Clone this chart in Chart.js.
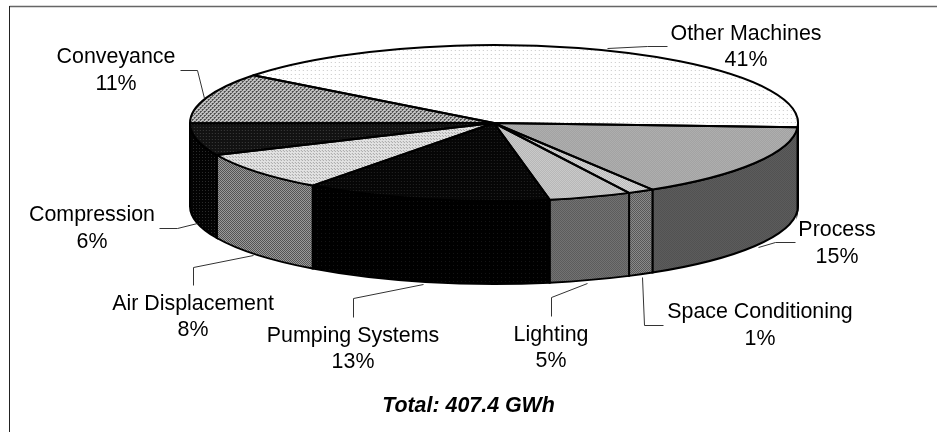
<!DOCTYPE html>
<html>
<head>
<meta charset="utf-8">
<title>Total: 407.4 GWh</title>
<script src="https://cdn.jsdelivr.net/npm/chart.js@4/dist/chart.umd.js"></script>
<style>
  html, body { margin: 0; padding: 0; background: #fff; }
  canvas { display: block; }
</style>
</head>
<body>
<canvas id="chartPie" width="937" height="432"></canvas>
<script>
// ── DATA ─────────────────────────────────────────────────────────
const categories = ["Other Machines", "Process", "Space Conditioning", "Lighting",
                    "Pumping Systems", "Air Displacement", "Compression", "Conveyance"];
const shares     = [40.4, 15.4, 1.4, 4.4, 13.1, 8.1, 6.7, 10.5];   // slice sizes as drawn
const pctLabels  = ["41%", "15%", "1%", "5%", "13%", "8%", "6%", "11%"];
const totalLabel = "Total: 407.4 GWh";

// ── LAYOUT (not data) ────────────────────────────────────────────
const FONT = "'Liberation Sans', Arial, sans-serif";
const pie  = { cx: 494, cy: 123, rx: 304, ry: 78, depth: 83, rotation: 307.7 };

// label centre x, first baseline, second baseline
const labelPos = [
  [746, 40, 66], [837, 236, 263], [760, 318, 345], [551, 341, 367],
  [353, 342, 368], [193, 310, 336], [92, 221, 248], [116, 63, 90],
];
const leaders = [
  [[667, 46], [647, 46], [607, 48]],
  [[795, 242], [775, 242], [758, 247]],
  [[663, 325], [644, 325], [642, 277]],
  [[551, 316], [551, 297], [587, 283]],
  [[353, 317], [353, 298], [423, 284]],
  [[193, 285], [193, 267], [253, 255]],
  [[159, 228], [177, 228], [197, 223]],
  [[180, 70], [197, 70], [204, 98]],
];

// ── PATTERNS ─────────────────────────────────────────────────────
function makePattern(size, bg, fg, cells) {
  const c = document.createElement("canvas");
  c.width = c.height = size;
  const g = c.getContext("2d");
  g.fillStyle = bg;
  g.fillRect(0, 0, size, size);
  g.fillStyle = fg;
  cells.forEach(p => g.fillRect(p[0], p[1], 1, 1));
  return g.createPattern(c, "repeat");
}

const checker = [[0, 0], [1, 1]];
const stagger = [[0, 0], [1, 0], [2, 2], [3, 2], [0, 1], [2, 3]];

const topFills = [
  makePattern(4, "#ffffff", "#c8c8c8", [[1, 1]]),
  makePattern(2, "#b2b2b2", "#a0a0a0", checker),
  makePattern(2, "#dcdcdc", "#b4b4b4", checker),
  makePattern(2, "#cecece", "#b4b4b4", checker),
  makePattern(3, "#060606", "#242424", [[1, 1]]),
  makePattern(3, "#e2e2e2", "#a4a4a4", [[0, 0], [1, 1]]),
  makePattern(3, "#121212", "#3c3c3c", [[1, 1]]),
  makePattern(4, "#c4c4c4", "#4c4c4c", stagger),
];
const sideFills = [
  makePattern(2, "#000000", "#000000", []),
  makePattern(2, "#5c5c5c", "#525252", checker),
  makePattern(2, "#8a8a8a", "#585858", checker),
  makePattern(2, "#727272", "#5c5c5c", checker),
  makePattern(4, "#000000", "#141414", [[1, 1]]),
  makePattern(2, "#9a9a9a", "#545454", checker),
  makePattern(3, "#030303", "#2a2a2a", [[1, 1]]),
  makePattern(2, "#000000", "#000000", []),
];

// ── 3D PIE PLUGIN ────────────────────────────────────────────────
// Chart.js lays the slices out as a circle; this squashes them into the
// ellipse, adds the rim underneath, then the outlines, leaders and labels.
const tiltedPie = {
  id: "tiltedPie",
  beforeDraw(chart) {
    const ctx = chart.ctx;
    ctx.save();
    ctx.strokeStyle = "#666";
    ctx.lineWidth = 1.5;
    ctx.beginPath();
    ctx.moveTo(937, 6.5);
    ctx.lineTo(9.5, 6.5);
    ctx.stroke();
    ctx.strokeStyle = "#222";
    ctx.lineWidth = 1;
    ctx.beginPath();
    ctx.moveTo(9.5, 6);
    ctx.lineTo(9.5, 432);
    ctx.stroke();
    ctx.restore();
  },
  beforeDatasetsDraw(chart) {
    const ctx  = chart.ctx;
    const arcs = chart.getDatasetMeta(0).data;

    // rim: only the front half of the ellipse is visible
    ctx.save();
    ctx.strokeStyle = "#000";
    ctx.lineWidth = 2;
    arcs.forEach((arc, i) => {
      [0, -2 * Math.PI].forEach(shift => {
        const lo = Math.max(arc.startAngle + shift, 0);
        const hi = Math.min(arc.endAngle + shift, Math.PI);
        if (hi <= lo) return;
        ctx.beginPath();
        ctx.ellipse(pie.cx, pie.cy, pie.rx, pie.ry, 0, lo, hi);
        ctx.ellipse(pie.cx, pie.cy + pie.depth, pie.rx, pie.ry, 0, hi, lo, true);
        ctx.closePath();
        ctx.fillStyle = sideFills[i];
        ctx.fill();
        ctx.stroke();
      });
    });
    ctx.restore();

    const a  = arcs[0];
    const sx = pie.rx / a.outerRadius;
    const sy = pie.ry / a.outerRadius;
    // keep the pattern pixels square under the squash
    topFills.forEach(p => p.setTransform(new DOMMatrix().scale(1 / sx, 1 / sy)));
    ctx.save();
    ctx.translate(pie.cx, pie.cy);
    ctx.scale(sx, sy);
    ctx.translate(-a.x, -a.y);
  },
  afterDatasetsDraw(chart) {
    const ctx = chart.ctx;
    ctx.restore();

    ctx.save();
    ctx.strokeStyle = "#000";
    ctx.lineWidth = 2;
    ctx.lineJoin = "round";
    chart.getDatasetMeta(0).data.forEach(arc => {
      ctx.beginPath();
      ctx.moveTo(pie.cx, pie.cy);
      ctx.ellipse(pie.cx, pie.cy, pie.rx, pie.ry, 0, arc.startAngle, arc.endAngle);
      ctx.closePath();
      ctx.stroke();
    });

    ctx.strokeStyle = "#333";
    ctx.lineWidth = 1;
    leaders.forEach(line => {
      ctx.beginPath();
      line.forEach((p, i) => i ? ctx.lineTo(p[0] + 0.5, p[1] + 0.5) : ctx.moveTo(p[0] + 0.5, p[1] + 0.5));
      ctx.stroke();
    });

    ctx.fillStyle = "#000";
    ctx.font = "21.4px " + FONT;
    ctx.textAlign = "center";
    ctx.textBaseline = "alphabetic";
    categories.forEach((name, i) => {
      const pos = labelPos[i];
      ctx.fillText(name, pos[0], pos[1]);
      ctx.fillText(pctLabels[i], pos[0], pos[2]);
    });
    ctx.restore();
  },
};

// ── CHART ────────────────────────────────────────────────────────
new Chart(document.getElementById("chartPie").getContext("2d"), {
  type: "pie",
  data: {
    labels: categories,
    datasets: [{
      data: shares,
      backgroundColor: topFills,
      borderWidth: 0,
      clip: false,
    }],
  },
  options: {
    responsive: false,
    animation: false,
    rotation: pie.rotation,
    events: [],
    plugins: {
      legend: { display: false },
      tooltip: { enabled: false },
      title: {
        display: true,
        text: totalLabel,
        position: "bottom",
        color: "#000",
        font: { family: FONT, size: 21.4, weight: "bold", style: "italic" },
        padding: { top: 0, bottom: 13 },
      },
    },
  },
  plugins: [tiltedPie],
});
</script>
</body>
</html>
